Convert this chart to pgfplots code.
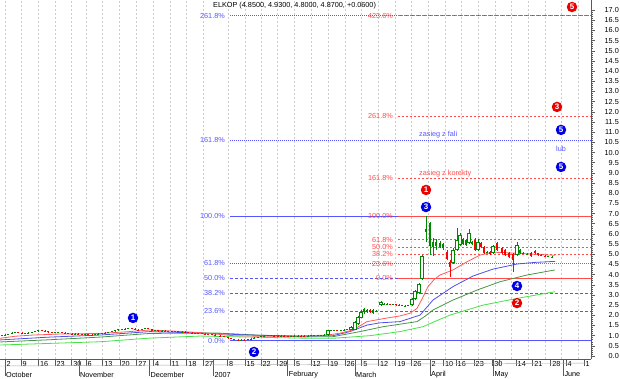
\documentclass[border=0pt]{standalone}
\usepackage{pgfplots}
\usepackage{pgfplotstable}
\pgfplotsset{compat=1.18}
\usepackage{fontspec}
\setmainfont{Liberation Sans}
\definecolor{fibblue}{RGB}{85,85,255}
\definecolor{fibred}{RGB}{255,75,75}
\definecolor{mared}{RGB}{255,90,90}
\definecolor{mablue}{RGB}{80,80,235}
\definecolor{madkgreen}{RGB}{70,150,70}
\definecolor{maltgreen}{RGB}{70,225,70}
\definecolor{cgreen}{RGB}{0,135,0}
\definecolor{cred}{RGB}{255,0,0}
\definecolor{mkblue}{RGB}{0,0,230}
\definecolor{mkred}{RGB}{235,0,0}
\definecolor{sep}{RGB}{90,90,90}
\newcommand\fs{\fontsize{7.3}{8}\selectfont}

\pgfplotstableread{
x lo hi wl wh
18 1.15 1.18 1.13 1.20
22 1.11 1.15 1.10 1.17
42 1.24 1.26 1.22 1.28
45 1.21 1.24 1.19 1.26
48 1.17 1.21 1.15 1.23
52 1.14 1.17 1.12 1.19
62 1.15 1.18 1.13 1.20
65 1.13 1.15 1.11 1.17
68 1.10 1.13 1.08 1.15
72 1.08 1.10 1.06 1.12
78 1.07 1.10 1.05 1.12
82 1.05 1.07 1.03 1.09
88 1.04 1.06 1.02 1.08
92 1.03 1.05 1.01 1.07
122 1.30 1.32 1.28 1.35
132 1.34 1.37 1.32 1.39
135 1.30 1.34 1.28 1.36
138 1.28 1.30 1.26 1.32
148 1.33 1.38 1.31 1.40
152 1.25 1.33 1.23 1.35
158 1.22 1.28 1.20 1.30
165 1.21 1.24 1.19 1.26
172 1.20 1.23 1.18 1.25
178 1.18 1.21 1.16 1.23
185 1.16 1.19 1.14 1.21
188 1.14 1.16 1.12 1.18
192 1.12 1.14 1.11 1.16
195 1.11 1.13 1.10 1.15
198 1.10 1.12 1.08 1.14
205 1.08 1.10 1.06 1.12
208 1.06 1.08 1.04 1.10
212 1.04 1.06 1.02 1.08
215 1.00 1.04 0.98 1.06
220 0.97 1.00 0.95 1.02
224 0.93 0.97 0.91 0.99
228 0.88 0.93 0.86 0.95
231 0.84 0.88 0.82 0.90
234 0.80 0.84 0.78 0.86
238 0.78 0.80 0.75 0.82
244 0.79 0.81 0.77 0.83
271 0.99 1.01 0.97 1.03
274 0.98 1.00 0.96 1.02
278 0.97 0.99 0.95 1.01
284 0.98 1.00 0.96 1.02
288 0.96 0.98 0.94 1.00
301 0.98 1.00 0.96 1.02
304 0.97 0.99 0.95 1.01
318 0.99 1.01 0.97 1.03
337 1.26 1.28 1.24 1.30
370 2.15 2.25 2.10 2.30
390 2.52 2.56 2.50 2.58
396 2.50 2.54 2.48 2.56
402 2.46 2.50 2.44 2.52
447 4.75 5.10 4.70 5.20
450 4.35 4.60 3.90 4.70
475 5.20 5.70 5.15 5.80
481 5.35 5.55 5.30 5.60
484 5.05 5.37 5.00 5.40
490 5.00 5.10 4.95 5.15
497 5.20 5.55 5.15 5.60
502 5.05 5.30 5.00 5.35
505 4.97 5.20 4.92 5.25
509 4.85 5.05 4.80 5.10
513 4.70 5.00 4.15 5.05
531 4.90 5.05 4.85 5.10
535 5.05 5.15 5.00 5.20
538 4.95 5.05 4.90 5.08
545 4.88 4.93 4.85 4.96
}\tR

\pgfplotstableread{
x lo hi wl wh
2 0.98 1.02 0.96 1.04
5 1.02 1.05 1.00 1.07
8 1.05 1.08 1.03 1.10
12 1.08 1.14 1.06 1.16
15 1.14 1.18 1.12 1.20
25 1.11 1.13 1.09 1.15
28 1.13 1.15 1.11 1.17
32 1.15 1.18 1.13 1.20
35 1.18 1.22 1.16 1.24
38 1.22 1.26 1.20 1.28
55 1.14 1.16 1.12 1.18
58 1.16 1.18 1.14 1.20
75 1.08 1.10 1.06 1.12
85 1.05 1.07 1.03 1.09
95 1.03 1.06 1.01 1.08
98 1.06 1.10 1.04 1.12
102 1.10 1.12 1.08 1.14
105 1.12 1.15 1.10 1.17
108 1.15 1.18 1.13 1.20
112 1.18 1.22 1.16 1.24
115 1.22 1.27 1.20 1.29
118 1.27 1.32 1.25 1.34
125 1.30 1.34 1.28 1.36
128 1.34 1.37 1.32 1.40
142 1.28 1.33 1.26 1.35
145 1.33 1.38 1.31 1.40
155 1.25 1.28 1.23 1.30
162 1.22 1.24 1.20 1.26
168 1.21 1.23 1.19 1.25
175 1.20 1.22 1.18 1.24
182 1.18 1.20 1.16 1.22
202 1.09 1.11 1.07 1.13
241 0.78 0.80 0.76 0.82
248 0.79 0.83 0.77 0.85
251 0.83 0.86 0.81 0.88
254 0.86 0.89 0.84 0.91
258 0.89 0.93 0.87 0.95
261 0.93 0.96 0.91 0.98
264 0.96 0.99 0.94 1.01
268 0.99 1.01 0.97 1.03
281 0.97 0.99 0.95 1.01
291 0.96 0.98 0.94 1.00
294 0.97 0.99 0.95 1.01
298 0.98 1.00 0.96 1.02
308 0.97 0.99 0.95 1.01
311 0.99 1.01 0.97 1.03
314 1.00 1.02 0.98 1.04
321 0.99 1.02 0.97 1.04
324 1.02 1.04 1.00 1.06
331 1.25 1.27 1.23 1.29
334 1.26 1.28 1.24 1.30
341 1.26 1.28 1.24 1.30
344 1.27 1.30 1.25 1.32
347 1.29 1.32 1.27 1.34
364 2.15 2.30 2.05 2.38
367 2.18 2.28 2.12 2.32
373 2.10 2.25 2.05 2.30
376 2.19 2.23 2.15 2.28
384 2.55 2.58 2.52 2.62
387 2.55 2.57 2.52 2.60
393 2.52 2.54 2.50 2.57
399 2.50 2.52 2.48 2.55
405 2.46 2.48 2.44 2.51
408 2.47 2.50 2.45 2.53
426 6.10 6.25 5.60 6.88
430 5.40 6.55 4.95 6.60
433 5.35 5.60 4.90 5.80
436 5.40 5.60 5.20 5.75
440 5.35 5.55 5.30 5.65
443 5.30 5.50 5.20 5.55
463 5.50 5.75 5.45 5.80
466 5.45 5.70 5.40 5.75
472 5.50 5.60 5.45 5.65
487 5.08 5.13 5.05 5.18
520 5.05 5.20 5.00 5.25
523 5.03 5.08 5.00 5.12
527 4.98 5.03 4.95 5.06
541 4.93 4.96 4.90 5.00
548 4.88 4.90 4.86 4.93
552 4.85 4.87 4.80 4.93
}\tG

\pgfplotstableread{
x lo hi wl wh
328 1.03 1.28 1.00 1.30
351 1.30 1.45 1.28 1.48
355 1.30 1.68 1.28 1.70
358 1.55 1.93 1.52 1.95
361 1.87 2.18 1.85 2.25
381 2.50 2.65 2.48 2.68
412 2.50 2.80 2.48 2.85
415 2.80 3.20 2.75 3.25
419 3.10 3.55 3.05 3.60
422 3.80 4.90 3.75 4.95
453 4.55 5.20 4.50 5.30
457 5.20 5.70 5.15 6.29
460 5.45 5.95 5.40 6.05
469 5.55 6.05 5.50 6.25
478 5.20 5.60 5.15 5.75
493 5.05 5.40 5.00 5.45
517 4.97 5.45 4.90 5.60
}\tH

\newcommand\cm[4]{\node[circle, fill=#1, text=white, inner sep=0pt, minimum size=10.5bp, font=\fontsize{8}{8}\selectfont\bfseries] at (axis cs:#2,#3) {#4};}

\pgfplotsset{candle/.style 2 args={draw=none, mark=none, forget plot,
  error bars/.cd, y dir=plus, y explicit, error mark=none,
  error bar style={draw=#1, line width=#2, line cap=butt}}}

\begin{document}
\begin{tikzpicture}
\begin{axis}[
  scale only axis, width=591bp, height=359bp,
  xmin=0, xmax=591, ymin=-0.147, ymax=17.494,
  clip=false,
  axis x line*=bottom, axis y line*=right,
  axis line style={sep, line width=0.6bp},
  tick align=outside,
  major tick length=4bp, minor tick length=2bp,
  ytick={0,0.5,...,17}, minor y tick num=4,
  ytick style={sep, line width=0.5bp},
  yticklabel={\pgfmathprintnumber[fixed,fixed zerofill,precision=1]{\tick}},
  yticklabel style={font=\fs, anchor=east, inner sep=0pt, xshift=24bp},
  /pgf/number format/assume math mode=true,
  xtick={5,21,38.3,55,71.7,86,102.7,120,136.7,153.3,170,186.7,203.3,227.3,245,261,277.7,294.3,311,328.3,345,361.7,378.3,395.7,411.7,430,443.3,456,474,492.7,516,532.7,550.7,566,584},
  xticklabels={2,9,16,23,30,6,13,20,27,4,11,18,27,8,15,22,29,5,12,19,26,5,12,19,26,2,10,16,23,30,14,21,28,4,1},
  xtick style={draw=none},
  xticklabel style={font=\fs, anchor=north west, inner sep=0pt, xshift=1.5bp, yshift=1.5bp},
]
% grid lines
\pgfplotsinvokeforeach{5,21,38.3,55,71.7,86,102.7,119.3,136.7,153.3,170,186.7,203.3,228.3,245,261,277.7,294.3,311.7,328.3,345,361.7,378.3,395,411.7,428.3,445,461.7,478.3,495,511.7,528.3,545,561.7,578.3}{
  \draw[gray!40, line width=0.5bp, dash pattern=on 2bp off 2bp] (axis cs:#1,-0.147) -- (axis cs:#1,17.494);
}
% date band separators
\pgfplotsinvokeforeach{5,21,38.3,55,71.7,86,102.7,120,136.7,153.3,170,186.7,203.3,227.3,245,261,277.7,294.3,311,328.3,345,361.7,378.3,395.7,411.7,430,443.3,456,474,492.7,499,516,532.7,550.7,566,584}{
  \draw[sep, line width=0.5bp] (axis cs:#1,-0.147) -- ++(0,-10bp);
}
\pgfplotsinvokeforeach{5,79,149.3,213.3,287.7,355,430,493.3,563.3}{
  \draw[sep, line width=0.5bp] (axis cs:#1,-0.147) -- ++(0,-20bp);
}
\draw[gray!70, line width=0.4bp] (axis cs:0,-0.147) ++(0,-10bp) -- ++(591bp,0);
\node[font=\fs, anchor=west, inner sep=0pt, yshift=-15.5bp] at (axis cs:6,-0.147) {October};
\node[font=\fs, anchor=west, inner sep=0pt, yshift=-15.5bp] at (axis cs:80,-0.147) {November};
\node[font=\fs, anchor=west, inner sep=0pt, yshift=-15.5bp] at (axis cs:150.3,-0.147) {December};
\node[font=\fs, anchor=west, inner sep=0pt, yshift=-15.5bp] at (axis cs:214.3,-0.147) {2007};
\node[font=\fs, anchor=west, inner sep=0pt, yshift=-15.5bp] at (axis cs:288.7,-0.147) {February};
\node[font=\fs, anchor=west, inner sep=0pt, yshift=-15.5bp] at (axis cs:356,-0.147) {March};
\node[font=\fs, anchor=west, inner sep=0pt, yshift=-15.5bp] at (axis cs:431,-0.147) {April};
\node[font=\fs, anchor=west, inner sep=0pt, yshift=-15.5bp] at (axis cs:494.3,-0.147) {May};
\node[font=\fs, anchor=west, inner sep=0pt, yshift=-15.5bp] at (axis cs:564.3,-0.147) {June};

% blue Fibonacci levels
\addplot[fibblue, line width=0.8bp, dash pattern=on 1bp off 1bp] coordinates {(230,16.72) (591,16.72)};
\addplot[fibblue, line width=0.8bp, dash pattern=on 1bp off 1bp] coordinates {(230,10.61) (591,10.61)};
\addplot[fibblue, line width=0.8bp] coordinates {(230,6.88) (591,6.88)};
\addplot[fibblue, line width=0.8bp, dash pattern=on 1bp off 1bp] coordinates {(230,4.55) (591,4.55)};
\addplot[fibblue, line width=0.8bp, dash pattern=on 3bp off 2bp] coordinates {(230,3.82) (591,3.82)};
\addplot[fibblue, line width=0.8bp, dash pattern=on 3bp off 2bp] coordinates {(230,3.08) (591,3.08)};
\addplot[fibblue, line width=0.8bp, dash pattern=on 3bp off 2bp] coordinates {(230,2.21) (591,2.21)};
\addplot[fibblue, line width=0.8bp] coordinates {(230,0.75) (591,0.75)};
% red Fibonacci levels
\addplot[fibred, line width=0.8bp, dash pattern=on 1.5bp off 1.5bp] coordinates {(398,16.72) (591,16.72)};
\addplot[fibred, line width=0.8bp, dash pattern=on 2bp off 2bp] coordinates {(398,11.78) (591,11.78)};
\addplot[fibred, line width=0.8bp, dash pattern=on 2bp off 2bp] coordinates {(398,8.74) (591,8.74)};
\addplot[fibred, line width=0.8bp] coordinates {(398,6.88) (591,6.88)};
\addplot[fibred, line width=0.8bp, dash pattern=on 2bp off 2bp] coordinates {(398,5.71) (591,5.71)};
\addplot[fibred, line width=0.8bp, dash pattern=on 2bp off 2bp] coordinates {(398,5.35) (591,5.35)};
\addplot[fibred, line width=0.8bp, dash pattern=on 2bp off 2bp] coordinates {(398,4.99) (591,4.99)};
\addplot[fibred!70!fibblue, line width=0.8bp, dash pattern=on 1bp off 1bp] coordinates {(398,4.54) (591,4.54)};
\addplot[fibred, line width=0.8bp] coordinates {(398,3.82) (591,3.82)};

% moving averages
\addplot[maltgreen, line width=0.8bp] coordinates {(0,0.54) (50,0.62) (100,0.70) (150,0.88) (200,0.98) (250,0.93) (300,0.88) (333,0.87) (370,1.00) (400,1.20) (423,1.44) (435,1.70) (450,2.01) (483,2.50) (517,2.83) (555,3.16)};
\addplot[madkgreen, line width=0.8bp] coordinates {(0,0.69) (50,0.80) (100,0.93) (150,1.11) (217,1.13) (260,1.02) (300,0.95) (333,0.95) (360,1.20) (383,1.44) (417,1.69) (425,1.95) (433,2.26) (453,2.75) (477,3.24) (500,3.65) (527,3.98) (555,4.23)};
\addplot[mablue, line width=0.8bp] coordinates {(0,0.79) (50,0.93) (100,1.03) (150,1.20) (200,1.13) (250,1.03) (300,0.98) (333,1.00) (350,1.20) (367,1.52) (380,1.63) (400,1.69) (420,2.01) (426,2.35) (433,2.75) (453,3.41) (473,3.93) (493,4.27) (517,4.52) (535,4.60) (555,4.65)};
\addplot[mared, line width=0.8bp] coordinates {(0,0.87) (15,0.97) (33,1.03) (60,1.08) (100,1.11) (130,1.20) (150,1.28) (175,1.22) (200,1.15) (233,1.00) (260,0.97) (300,0.98) (327,1.03) (340,1.12) (353,1.28) (367,1.69) (385,1.85) (400,1.97) (410,2.10) (417,2.34) (422,2.80) (428,3.41) (434,3.75) (440,3.98) (453,4.23) (467,4.63) (480,4.96) (493,5.10) (505,5.08) (517,5.05) (535,5.00) (555,4.95)};

% candles: wicks
\addplot[candle={cred}{0.6bp}] table[x=x, y=wl, y error expr=\thisrow{wh}-\thisrow{wl}] {\tR};
\addplot[candle={cgreen}{0.6bp}] table[x=x, y=wl, y error expr=\thisrow{wh}-\thisrow{wl}] {\tG};
\addplot[candle={cgreen}{0.6bp}] table[x=x, y=wl, y error expr=\thisrow{wh}-\thisrow{wl}] {\tH};
% candles: bodies
\addplot[candle={cred}{2.6bp}] table[x=x, y=lo, y error expr=\thisrow{hi}-\thisrow{lo}] {\tR};
\addplot[candle={cgreen}{2.6bp}] table[x=x, y=lo, y error expr=\thisrow{hi}-\thisrow{lo}] {\tG};
\addplot[candle={cgreen}{3.2bp}] table[x=x, y=lo, y error expr=\thisrow{hi}-\thisrow{lo}] {\tH};
\addplot[candle={white}{1.4bp}] table[x=x, y expr=\thisrow{lo}+0.05, y error expr=\thisrow{hi}-\thisrow{lo}-0.1] {\tH};

% labels of levels
\begin{scope}[font=\fs, inner sep=0pt]
\node[anchor=east, text=fibblue] at (axis cs:225,16.72) {261.8\%};
\node[anchor=east, text=fibblue] at (axis cs:225,10.61) {161.8\%};
\node[anchor=east, text=fibblue] at (axis cs:225,6.88) {100.0\%};
\node[anchor=east, text=fibblue] at (axis cs:225,4.55) {61.8\%};
\node[anchor=east, text=fibblue] at (axis cs:225,3.82) {50.0\%};
\node[anchor=east, text=fibblue] at (axis cs:225,3.08) {38.2\%};
\node[anchor=east, text=fibblue] at (axis cs:225,2.21) {23.6\%};
\node[anchor=east, text=fibblue] at (axis cs:225,0.75) {0.0\%};
\node[anchor=east, text=fibred] at (axis cs:393,16.72) {423.6\%};
\node[anchor=east, text=fibred] at (axis cs:393,11.78) {261.8\%};
\node[anchor=east, text=fibred] at (axis cs:393,8.74) {161.8\%};
\node[anchor=east, text=fibred] at (axis cs:393,6.88) {100.0\%};
\node[anchor=east, text=fibred] at (axis cs:393,5.71) {61.8\%};
\node[anchor=east, text=fibred] at (axis cs:393,5.35) {50.0\%};
\node[anchor=east, text=fibred] at (axis cs:393,4.99) {38.2\%};
\node[anchor=east, text=fibred] at (axis cs:393,4.54) {23.6\%};
\node[anchor=east, text=fibred] at (axis cs:393,3.82) {0.0\%};
\node[anchor=west, text=black] at (axis cs:213,17.2) {ELKOP (4.8500, 4.9300, 4.8000, 4.8700, +0.0600)};
\node[anchor=west, text=fibblue] at (axis cs:419,10.86) {zasieg z fali};
\node[anchor=west, text=fibred] at (axis cs:419,8.96) {zasieg z korekty};
\node[text=fibblue] at (axis cs:561,10.17) {lub};
\end{scope}
% wave markers
\cm{mkred}{572}{17.15}{5}
\cm{mkred}{557}{12.24}{3}
\cm{mkblue}{561}{11.11}{5}
\cm{mkblue}{561}{9.29}{5}
\cm{mkred}{426}{8.16}{1}
\cm{mkblue}{426}{7.32}{3}
\cm{mkblue}{517}{3.44}{4}
\cm{mkred}{517}{2.60}{2}
\cm{mkblue}{133}{1.87}{1}
\cm{mkblue}{254}{0.20}{2}
\end{axis}
\pgfresetboundingbox
\path (0,-20bp) rectangle (620bp,359bp);
\end{tikzpicture}
\end{document}
